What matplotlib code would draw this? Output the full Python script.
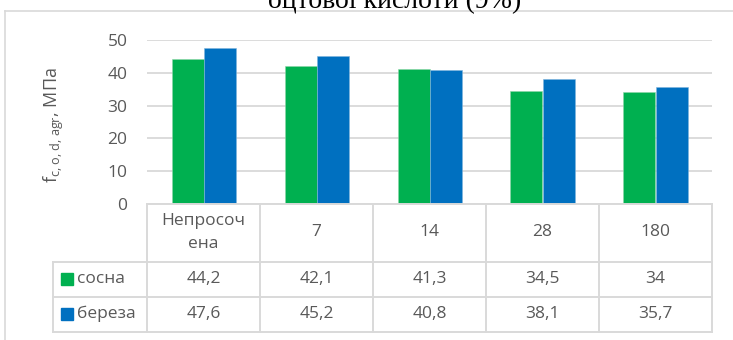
import matplotlib
matplotlib.use("Agg")
import matplotlib.pyplot as plt
from matplotlib.lines import Line2D
import numpy as np

plt.rcParams['font.family'] = ['Open Sans', 'DejaVu Sans']
plt.rcParams['mathtext.fontset'] = 'custom'
plt.rcParams['mathtext.rm'] = 'Open Sans'
plt.rcParams['mathtext.default'] = 'regular'

categories = ["Непросоч\nена", "7", "14", "28", "180"]
series_names = ["сосна", "береза"]
pine = [44.2, 42.1, 41.3, 34.5, 34]
birch = [47.6, 45.2, 40.8, 38.1, 35.7]
pine_text = ["44,2", "42,1", "41,3", "34,5", "34"]
birch_text = ["47,6", "45,2", "40,8", "38,1", "35,7"]
yticks = [0, 10, 20, 30, 40, 50]

green = "#00B050"
blue = "#0070C0"
txt = "#595959"
grid = "#D9D9D9"

W, H = 733, 340
fig = plt.figure(figsize=(W / 100, H / 100), dpi=100)

# frame of the chart area (cropped on right and bottom)
fig.add_artist(Line2D([5 / W, 1], [1 - 11 / H, 1 - 11 / H], color=grid, lw=1.2, transform=fig.transFigure))
fig.add_artist(Line2D([5 / W, 5 / W], [0, 1 - 11 / H], color=grid, lw=1.2, transform=fig.transFigure))

# title, cut at the top like in the source
fig.text(395 / W, 1 - 8.5 / H, "оцтової кислоти (9%)", ha="center", va="baseline",
         fontfamily="Liberation Serif", fontsize=20, color="black")

# main plot
ax = fig.add_axes([147 / W, 1 - 204 / H, (712 - 147) / W, (204 - 40) / H])
x = np.arange(len(categories))
w = 32 / 113
ax.bar(x - w / 2, pine, w, color=green, edgecolor="#8fd6a8", lw=0.4, zorder=3)
ax.bar(x + w / 2, birch, w, color=blue, edgecolor="#7fb4dd", lw=0.4, zorder=3)
ax.set_xlim(-0.5, len(categories) - 0.5)
ax.set_ylim(0, 50)
ax.set_yticks(yticks)
ax.set_yticklabels([str(v) for v in yticks], fontsize=12.5, color=txt)
ax.tick_params(axis="y", length=0, pad=14)
ax.set_xticks([])
ax.grid(axis="y", color=grid, lw=1.3, zorder=0)
for s in ax.spines.values():
    s.set_visible(False)
ax.set_ylabel(r"f$_{\text{c, o, d, agr}}$, МПа", fontsize=13, color=txt, labelpad=0)
ax.yaxis.set_label_coords(-(147 - 66) / (712 - 147), 0.48)

# data table
leg_w = (147 - 53) / 113
tab = fig.add_axes([53 / W, 1 - 331.5 / H, (712 - 53) / W, 128 / H])
tab.set_xlim(-0.5 - leg_w, len(categories) - 0.5)
tab.set_ylim(128, 0)
tab.axis("off")
n = len(categories)
lw = 1.4
tab.plot([-0.5, n - 0.5], [0, 0], color=grid, lw=lw, clip_on=False)
for yy in [58, 93, 128]:
    tab.plot([-0.5 - leg_w, n - 0.5], [yy, yy], color=grid, lw=lw, clip_on=False)
for xx in np.arange(-0.5, n, 1.0):
    tab.plot([xx, xx], [0, 128], color=grid, lw=lw, clip_on=False)
tab.plot([-0.5 - leg_w, -0.5 - leg_w], [58, 128], color=grid, lw=lw, clip_on=False)

for i, c in enumerate(categories):
    tab.text(i, 29, c, ha="center", va="center", fontsize=12.5, color=txt, linespacing=1.55)
    tab.text(i, 75.5, pine_text[i], ha="center", va="center", fontsize=12.5, color=txt)
    tab.text(i, 110.5, birch_text[i], ha="center", va="center", fontsize=12.5, color=txt)

for yy, name, col in [(75.5, series_names[0], green), (110.5, series_names[1], blue)]:
    sq = 12 / 113
    tab.add_patch(plt.Rectangle((-0.5 - leg_w + 8 / 113, yy - 6), sq, 12, color=col, clip_on=False))
    tab.text(-0.5 - leg_w + 24 / 113, yy, name, ha="left", va="center", fontsize=12.5, color=txt)

fig.savefig("out.png", dpi=100)
